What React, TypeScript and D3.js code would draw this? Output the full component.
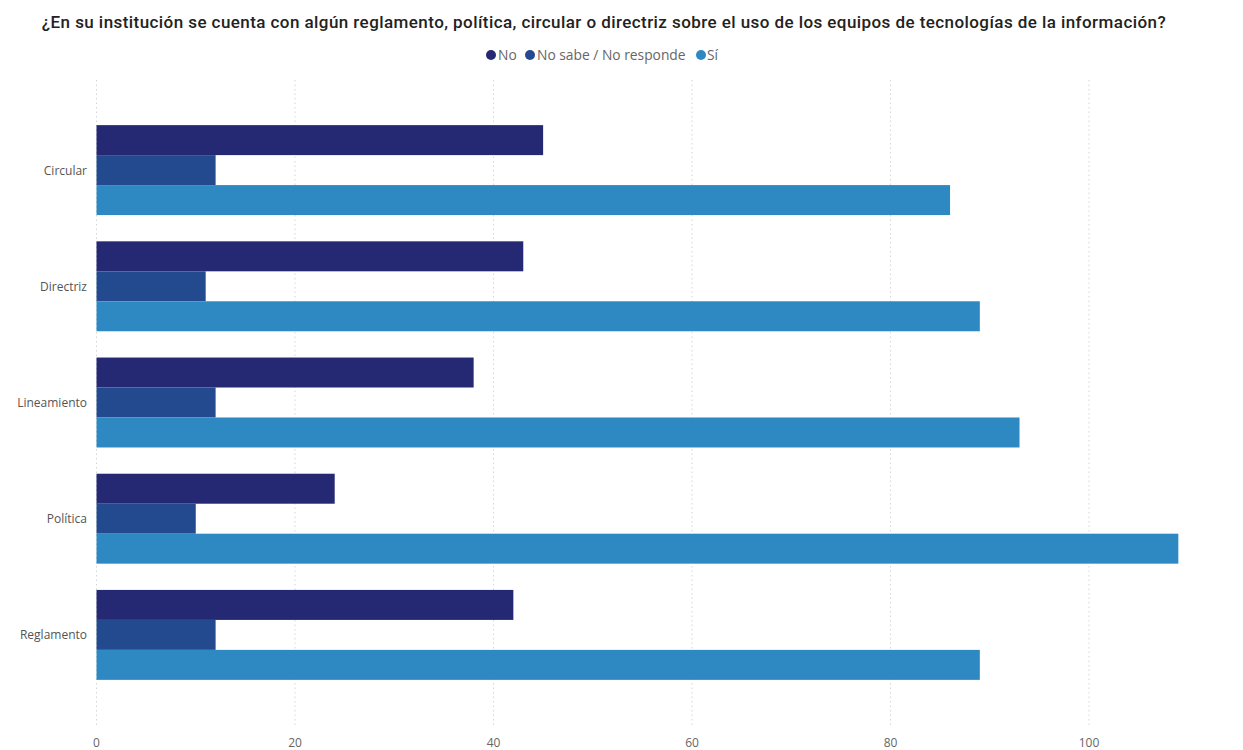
import React from "react";
import * as d3 from "d3";

const categories = ["Circular", "Directriz", "Lineamiento", "Política", "Reglamento"];
const seriesNames = ["No", "No sabe / No responde", "Sí"];
const noValues = [45, 43, 38, 24, 42];
const noSabeValues = [12, 11, 12, 10, 12];
const siValues = [86, 89, 93, 109, 89];
const xTicks = [0, 20, 40, 60, 80, 100];
const colors = ["#252873", "#234a8e", "#2e89c3"];
const title = "¿En su institución se cuenta con algún reglamento, política, circular o directriz sobre el uso de los equipos de tecnologías de la información?";

const W = 1243;
const H = 750;

export default function App() {
  const series = [noValues, noSabeValues, siValues];
  const x = d3.scaleLinear().domain([0, 100]).range([96.5, 1089]);
  const y = d3.scaleBand<string>().domain(categories).range([112, 693]).paddingInner(0.226).paddingOuter(0.113);
  const inner = d3.scaleBand<number>().domain([0, 1, 2]).range([0, y.bandwidth()]);

  const legendItems = [
    { cx: 491, tx: 498 },
    { cx: 530, tx: 537 },
    { cx: 701, tx: 707 },
  ];

  return (
    <div style={{ position: "absolute", left: 0, top: 0 }}>
      <svg width={W} height={H} style={{ display: "block", background: "#fff" }}>
        <text x={604} y={28} textAnchor="middle" fontFamily="Roboto, 'Open Sans', sans-serif" fontWeight={500} fontSize={17} letterSpacing={0.43} fill="#222">
          {title}
        </text>
        {seriesNames.map((s, i) => (
          <g key={s}>
            <circle cx={legendItems[i].cx} cy={55} r={5} fill={colors[i]} />
            <text x={legendItems[i].tx} y={60} fontFamily="'Open Sans', sans-serif" fontSize={13.8} fill="#666">
              {s}
            </text>
          </g>
        ))}
        {xTicks.map((t) => (
          <g key={t}>
            <line x1={x(t)} x2={x(t)} y1={80} y2={725} stroke="#d6d6d6" strokeDasharray="1.5,3" strokeWidth={1} />
            <text x={x(t)} y={747} textAnchor="middle" fontFamily="'Open Sans', sans-serif" fontSize={12} fill="#666">
              {t}
            </text>
          </g>
        ))}
        {categories.map((c, ci) => (
          <g key={c}>
            <text x={87} y={(y(c) as number) + y.bandwidth() / 2 + 4.5} textAnchor="end" fontFamily="'Open Sans', sans-serif" fontSize={12} fill="#555">
              {c}
            </text>
            {series.map((vals, si) => (
              <rect
                key={si}
                x={x(0)}
                y={(y(c) as number) + (inner(si) as number)}
                width={x(vals[ci]) - x(0)}
                height={inner.bandwidth()}
                fill={colors[si]}
              />
            ))}
          </g>
        ))}
      </svg>
    </div>
  );
}
